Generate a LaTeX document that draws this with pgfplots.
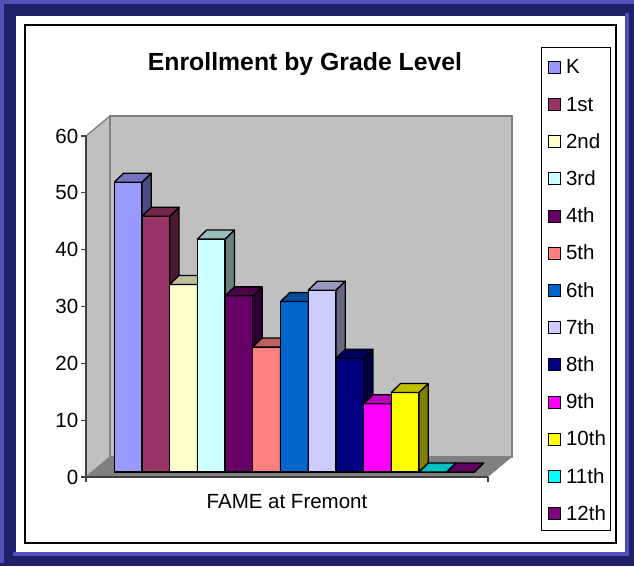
\documentclass[border=0pt]{standalone}
\usepackage{pgfplots}
\pgfplotsset{compat=1.18}
\usepackage{fontspec}
\setmainfont{Liberation Sans}
\definecolor{navy1}{RGB}{32,32,104}
\definecolor{lilac}{RGB}{80,80,184}
\definecolor{wallgray}{RGB}{192,192,192}
\definecolor{edgegray}{RGB}{128,128,128}
\definecolor{gK}{RGB}{153,153,255}
\definecolor{g1}{RGB}{153,51,102}
\definecolor{g2}{RGB}{255,255,204}
\definecolor{g3}{RGB}{204,255,255}
\definecolor{g4}{RGB}{102,0,102}
\definecolor{g5}{RGB}{255,128,128}
\definecolor{g6}{RGB}{0,102,204}
\definecolor{g7}{RGB}{204,204,255}
\definecolor{g8}{RGB}{0,0,128}
\definecolor{g9}{RGB}{255,0,255}
\definecolor{g10}{RGB}{255,255,0}
\definecolor{g11}{RGB}{0,255,255}
\definecolor{g12}{RGB}{128,0,128}
\newcommand{\py}[1]{(477-#1)/5.683}
\newcommand{\barfont}{\fontsize{20.5}{24}\selectfont}
% one bar: left x, value, colour, legend name
\newcommand{\gradebar}[4]{%
  \pgfmathsetmacro{\xc}{#1+13.85}
  \pgfmathsetmacro{\xr}{#1+27.7}
  \pgfmathsetmacro{\xlb}{#1+9.3}
  \pgfmathsetmacro{\xrb}{#1+37}
  \pgfmathsetmacro{\vb}{#2+1.58}
  \addplot[ybar,bar width=27.7pt,bar shift=0pt,fill=#3,draw=black,line width=1.3pt,yshift=5pt]
    coordinates {(\xc,#2)};
  \addlegendentry{#4}
  \addplot[fill=#3!50!black,draw=black,line width=1.3pt,line join=round,mark=none,yshift=5pt,forget plot]
    coordinates {(\xr,0)(\xr,#2)(\xrb,\vb)(\xrb,1.58)} --cycle;
  \addplot[fill=#3!75!black,draw=black,line width=1.3pt,line join=round,mark=none,yshift=5pt,forget plot]
    coordinates {(#1,#2)(\xr,#2)(\xrb,\vb)(\xlb,\vb)} --cycle;
}
\begin{document}
\begin{tikzpicture}
\begin{axis}[
  scale only axis, width=402pt, height=341pt,
  xmin=86, xmax=488, ymin=0, ymax=60,
  clip=false, axis on top=true,
  axis lines=left, axis line style={-,black!75,line width=1.1pt},
  xtick={86,488}, xticklabels={,},
  ytick={0,10,20,30,40,50,60},
  tick align=outside, major tick length=4.5pt,
  tick style={black!75,line width=1.1pt},
  /pgf/number format/assume math mode=true,
  tick label style={font=\barfont},
  yticklabel style={inner sep=3pt},
  title={Enrollment by Grade Level},
  title style={at={(axis description cs:0.5448,1.1935)},anchor=center,font=\bfseries\fontsize{24.8}{30}\selectfont},
  xlabel={FAME at Fremont},
  xlabel style={at={(axis description cs:0.5,-0.0733)},anchor=center,font=\barfont},
  legend cell align=left,
  legend image code/.code={\draw[#1,line width=1pt,/tikz/yshift=-6.5pt] (0pt,-6pt) rectangle (12pt,6pt);\path (16.5pt,0pt);},
  legend style={at={(axis cs:541,{\py{47.5}})},anchor=north west,draw=black,line width=0.8pt,
    font=\barfont,row sep=21.2pt,inner ysep=10pt,inner xsep=7pt,
    nodes={inner sep=0pt,text height=16pt,text depth=0pt,text width=37pt}},
]
% picture frame
\fill[navy1] (axis cs:0,{\py{0}}) rectangle (axis cs:634,{\py{566}});
\fill[lilac] (axis cs:0,{\py{0}}) rectangle (axis cs:634,{\py{4}});
\fill[lilac] (axis cs:0,{\py{0}}) rectangle (axis cs:4,{\py{563}});
\fill[lilac] (axis cs:625,{\py{13}}) rectangle (axis cs:629,{\py{556}});
\fill[lilac] (axis cs:13,{\py{552}}) rectangle (axis cs:629,{\py{556}});
\fill[white] (axis cs:16,{\py{16}}) rectangle (axis cs:625,{\py{552}});
\draw[black,line width=2pt,fill=white] (axis cs:25,{\py{25}}) rectangle (axis cs:616,{\py{542.5}});
% walls and floor
\draw[fill=wallgray,draw=edgegray,line width=1.3pt] (axis cs:86,{\py{136}}) -- (axis cs:110,{\py{116}}) -- (axis cs:110,{\py{457}}) -- (axis cs:86,{\py{477}}) -- cycle;
\draw[fill=wallgray,draw=edgegray,line width=1.3pt] (axis cs:110,{\py{116}}) rectangle (axis cs:512,{\py{457}});
\fill[edgegray] (axis cs:86,{\py{477}}) -- (axis cs:110,{\py{457}}) -- (axis cs:512,{\py{457}}) -- (axis cs:488,{\py{477}}) -- cycle;
% bars, left to right
\gradebar{114.3}{51}{gK}{K}
\gradebar{142.0}{45}{g1}{1st}
\gradebar{169.7}{33}{g2}{2nd}
\gradebar{197.4}{41}{g3}{3rd}
\gradebar{225.1}{31}{g4}{4th}
\gradebar{252.8}{22}{g5}{5th}
\gradebar{280.5}{30}{g6}{6th}
\gradebar{308.2}{32}{g7}{7th}
\gradebar{335.9}{20}{g8}{8th}
\gradebar{363.6}{12}{g9}{9th}
\gradebar{391.3}{14}{g10}{10th}
\gradebar{419.0}{0}{g11}{11th}
\gradebar{446.7}{0}{g12}{12th}
\end{axis}
\end{tikzpicture}
\end{document}
